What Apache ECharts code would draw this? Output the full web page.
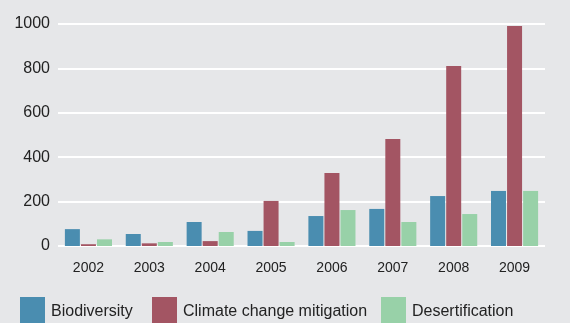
<!DOCTYPE html>
<html><head><meta charset="utf-8">
<script src="https://cdn.jsdelivr.net/npm/echarts@6/dist/echarts.min.js"></script>
<style>html,body{margin:0;padding:0;background:#e6e7e9}#c{width:570px;height:323px}</style>
</head><body><div id="c"></div>
<script>
const years = ['2002','2003','2004','2005','2006','2007','2008','2009'];
const biodiversity = [76, 54, 108, 68, 135, 167, 225, 248];
const climate = [8, 12, 22, 203, 329, 482, 811, 991];
const desertification = [30, 18, 63, 18, 162, 108, 144, 248];
const yTicks = [0, 200, 400, 600, 800, 1000];
const seriesNames = ['Biodiversity', 'Climate change mitigation', 'Desertification'];
const FONT = '"Liberation Sans", Arial, sans-serif';
const legendLefts = [20, 152, 381];
const chart = echarts.init(document.getElementById('c'), null, {renderer:'canvas'});
chart.setOption({
  backgroundColor: '#e6e7e9',
  animation: false,
  textStyle: {fontFamily: FONT},
  grid: {left: 58, right: 25, top: 24, bottom: 77},
  legend: seriesNames.map((n, i) => ({
    top: 297, left: legendLefts[i], padding: 0, itemWidth: 25, itemHeight: 30,
    icon: 'rect', selectedMode: false,
    textStyle: {fontFamily: FONT, fontSize: 16, color: '#222', padding: [0,0,0,1]},
    data: [n]
  })),
  xAxis: {
    type: 'category', data: years,
    axisLine: {show: false}, axisTick: {show: false},
    axisLabel: {fontFamily: FONT, fontSize: 14, color: '#222', margin: 15}
  },
  yAxis: {
    type: 'value', min: yTicks[0], max: yTicks[yTicks.length-1], interval: 200,
    axisLine: {show: false}, axisTick: {show: false},
    axisLabel: {fontFamily: FONT, fontSize: 16, color: '#222', margin: 8, formatter: v => String(v)},
    splitLine: {show: true, lineStyle: {color: '#ffffff', width: 2}}
  },
  series: [
    {name: seriesNames[0], type: 'bar', data: biodiversity, barWidth: 15, barGap: '7%', itemStyle: {color: '#4a8db0'}},
    {name: seriesNames[1], type: 'bar', data: climate, barWidth: 15, barGap: '7%', itemStyle: {color: '#a35563'}},
    {name: seriesNames[2], type: 'bar', data: desertification, barWidth: 15, barGap: '7%', itemStyle: {color: '#98d1a8'}}
  ]
});
</script></body></html>
